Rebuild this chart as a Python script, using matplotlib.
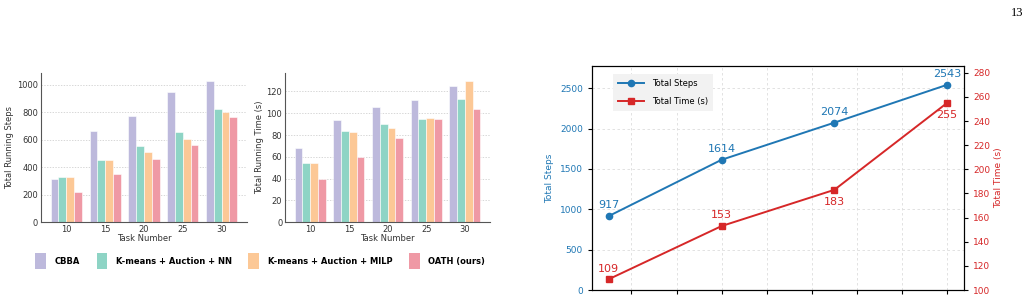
import matplotlib
matplotlib.use("Agg")
import matplotlib.pyplot as plt
from matplotlib.patches import Patch
import numpy as np

# ---------------- data ----------------
tasks = ["10", "15", "20", "25", "30"]
methods = ["CBBA", "K-means + Auction + NN", "K-means + Auction + MILP", "OATH (ours)"]
steps_cbba = [310, 665, 770, 950, 1030]
steps_knn = [330, 450, 553, 652, 820]
steps_milp = [328, 455, 508, 605, 800]
steps_oath = [220, 350, 462, 560, 765]
time_cbba = [68, 94, 106, 112, 125]
time_knn = [54.5, 84, 90.5, 95, 113]
time_milp = [54.5, 83, 86, 95.5, 130]
time_oath = [40, 60, 77, 95, 103.5]

scale_x = [25, 50, 75, 100]
scale_steps = [917, 1614, 2074, 2543]
scale_time = [109, 153, 183, 255]

colors = ["#bdb9dc", "#8ed4c5", "#fcc896", "#ef99a5"]

plt.rcParams['font.family'] = ['DejaVu Sans']

fig = plt.figure(figsize=(10.32, 2.98), dpi=100)

def bar_panel(ax, series, ylabel, ylim, yticks):
    x = np.arange(len(tasks))
    w = 0.2
    for i, (vals, c) in enumerate(zip(series, colors)):
        ax.bar(x + (i - 1.5) * w, vals, w, color=c, edgecolor="white", linewidth=0.4, zorder=2)
    ax.set_xticks(x)
    ax.set_xticklabels(tasks)
    ax.set_xlim(-0.65, 4.65)
    ax.set_ylim(*ylim)
    ax.set_yticks(yticks)
    ax.grid(axis="y", linestyle=(0, (2, 2)), color="#c8c8c8", linewidth=0.5, zorder=0)
    ax.set_axisbelow(True)
    for s in ["top", "right"]:
        ax.spines[s].set_visible(False)
    for s in ["left", "bottom"]:
        ax.spines[s].set_color("#555555")
        ax.spines[s].set_linewidth(0.8)
    ax.tick_params(axis="both", labelsize=6, length=0, pad=2, colors="#333333")
    ax.set_xlabel("Task Number", fontsize=6, labelpad=0.5, color="#333333")
    ax.set_ylabel(ylabel, fontsize=6, labelpad=2, color="#333333")

ax1 = fig.add_axes([0.0397, 0.255, 0.1996, 0.5])
bar_panel(ax1, [steps_cbba, steps_knn, steps_milp, steps_oath], "Total Running Steps",
          (0, 1085), [0, 200, 400, 600, 800, 1000])
ax2 = fig.add_axes([0.2762, 0.255, 0.1986, 0.5])
bar_panel(ax2, [time_cbba, time_knn, time_milp, time_oath], "Total Running Time (s)",
          (0, 137), [0, 20, 40, 60, 80, 100, 120])

handles = [Patch(facecolor=c, edgecolor="none") for c in colors]
fig.legend(handles, methods, loc="center", bbox_to_anchor=(0.252, 0.124), ncol=4,
           frameon=False, prop={"size": 6, "weight": "bold"},
           handlelength=1.3, handleheight=2.6, handletextpad=1.0, columnspacing=2.0)

# ---------------- right panel ----------------
blue = "#1f77b4"
red = "#d62728"
ax3 = fig.add_axes([0.5736, 0.0268, 0.3605, 0.7517])
l1, = ax3.plot(scale_x, scale_steps, color=blue, marker="o", markersize=4.5, linewidth=1.4,
               label="Total Steps", zorder=3)
ax3.set_xlim(21.25, 103.75)
ax3.set_ylim(0, 2776)
ax3.set_xticks([30, 40, 50, 60, 70, 80, 90, 100])
ax3.set_yticks([0, 500, 1000, 1500, 2000, 2500])
ax3.grid(True, linestyle=(0, (3, 3)), color="#dddddd", linewidth=0.6)
ax3.tick_params(axis="y", labelsize=6.5, length=3, width=0.8, color="black")
ax3.tick_params(axis="x", labelsize=6.5, length=3, width=0.8)
for lab in ax3.get_yticklabels():
    lab.set_color(blue)
ax3.set_ylabel("Total Steps", color=blue, fontsize=6.5, labelpad=4)
for xv, yv in zip(scale_x, scale_steps):
    ax3.annotate(str(yv), (xv, yv), xytext=(0, 4), textcoords="offset points",
                 ha="center", va="bottom", color=blue, fontsize=8)

ax4 = ax3.twinx()
l2, = ax4.plot(scale_x, scale_time, color=red, marker="s", markersize=4.5, linewidth=1.4,
               label="Total Time (s)", zorder=3)
ax4.set_ylim(100, 285.6)
ax4.set_yticks(np.arange(100, 281, 20))
ax4.tick_params(axis="y", labelsize=6.5, length=3, width=0.8, color="black")
for lab in ax4.get_yticklabels():
    lab.set_color(red)
ax4.set_ylabel("Total Time (s)", color=red, fontsize=6.5, labelpad=3)
offsets = [(0, 4, "bottom"), (0, 4, "bottom"), (0, -5, "top"), (0, -5, "top")]
for (xv, yv), (dx, dy, va) in zip(zip(scale_x, scale_time), offsets):
    ax4.annotate(str(yv), (xv, yv), xytext=(dx, dy), textcoords="offset points",
                 ha="center", va=va, color=red, fontsize=8)

leg = ax3.legend([l1, l2], ["Total Steps", "Total Time (s)"], loc="upper left",
                 bbox_to_anchor=(0.056, 0.964), fontsize=6, frameon=True, fancybox=False,
                 handlelength=3.2, borderpad=0.6, borderaxespad=0, labelspacing=1.05,
                 handletextpad=0.9)
leg.get_frame().set_facecolor("#f2f2f2")
leg.get_frame().set_edgecolor("none")
leg.get_frame().set_alpha(1)

fig.text(0.992, 0.955, "13", ha="right", va="center", fontsize=9, family="Liberation Serif")

fig.savefig("out.png", dpi=100)
